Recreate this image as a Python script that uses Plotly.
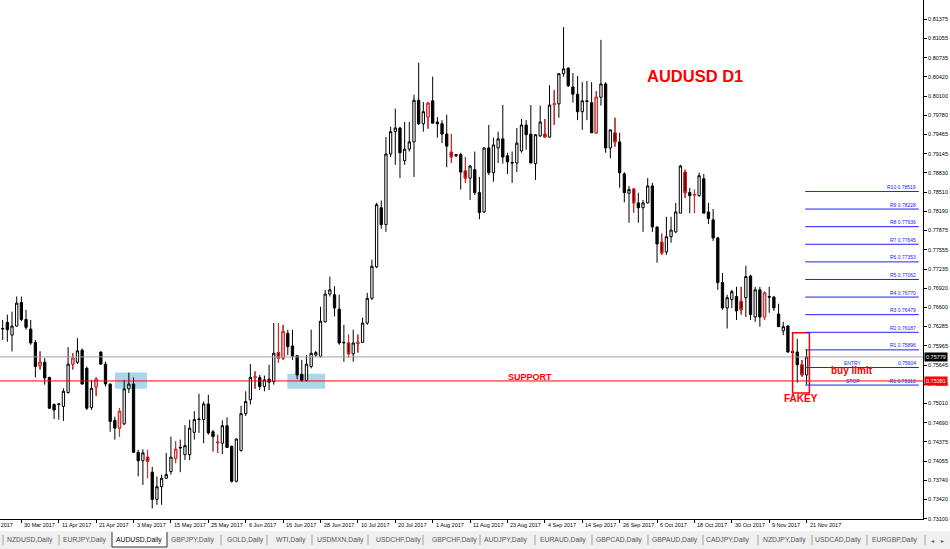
import pandas as pd
import plotly.graph_objects as go

# daily AUDUSD candles, 24 Mar 2017 .. 21 Nov 2017
opens = [0.7624, 0.7635, 0.7614, 0.7629, 0.7668, 0.7640, 0.7624, 0.7602, 0.7563, 0.7569,
         0.7544, 0.7499, 0.7499, 0.7496, 0.7519, 0.7566, 0.7569, 0.7589, 0.7559, 0.7494,
         0.7528, 0.7586, 0.7566, 0.7533, 0.7473, 0.7460, 0.7467, 0.7525, 0.7533, 0.7420,
         0.7406, 0.7412, 0.7387, 0.7342, 0.7363, 0.7377, 0.7388, 0.7410, 0.7427, 0.7416,
         0.7416, 0.7453, 0.7474, 0.7474, 0.7500, 0.7454, 0.7437, 0.7435, 0.7464, 0.7430,
         0.7372, 0.7423, 0.7484, 0.7507, 0.7544, 0.7544, 0.7529, 0.7541, 0.7537, 0.7585,
         0.7576, 0.7617, 0.7596, 0.7580, 0.7549, 0.7539, 0.7562, 0.7581, 0.7579, 0.7636,
         0.7682, 0.7681, 0.7657, 0.7601, 0.7601, 0.7583, 0.7600, 0.7602, 0.7634, 0.7675,
         0.7727, 0.7825, 0.7797, 0.7914, 0.7951, 0.7957, 0.7903, 0.7922, 0.7934, 0.8003,
         0.7964, 0.7975, 0.8002, 0.7967, 0.7964, 0.7947, 0.7917, 0.7911, 0.7913, 0.7886,
         0.7874, 0.7888, 0.7850, 0.7818, 0.7924, 0.7883, 0.7924, 0.7939, 0.7911, 0.7900,
         0.7899, 0.7919, 0.7962, 0.7947, 0.7898, 0.7944, 0.7947, 0.7942, 0.7997, 0.7997,
         0.8047, 0.8056, 0.8025, 0.8013, 0.7984, 0.8002, 0.7999, 0.7949, 0.8008, 0.8030,
         0.7924, 0.7949, 0.7934, 0.7881, 0.7849, 0.7856, 0.7833, 0.7825, 0.7833, 0.7861,
         0.7793, 0.7768, 0.7752, 0.7777, 0.7785, 0.7816, 0.7884, 0.7850, 0.7846, 0.7845,
         0.7873, 0.7818, 0.7805, 0.7775, 0.7701, 0.7659, 0.7673, 0.7678, 0.7670, 0.7676,
         0.7712, 0.7644, 0.7689, 0.7644, 0.7678, 0.7677, 0.7649, 0.7621, 0.7629, 0.7587,
         0.7586, 0.7565, 0.7548]
highs = [0.7639, 0.7648, 0.7653, 0.7678, 0.7678, 0.7656, 0.7639, 0.7606, 0.7587, 0.7576,
         0.7545, 0.7501, 0.7501, 0.7526, 0.7594, 0.7584, 0.7609, 0.7592, 0.7562, 0.7540,
         0.7544, 0.7587, 0.7570, 0.7534, 0.7479, 0.7493, 0.7540, 0.7552, 0.7544, 0.7424,
         0.7425, 0.7424, 0.7396, 0.7380, 0.7383, 0.7419, 0.7446, 0.7438, 0.7441, 0.7465,
         0.7474, 0.7488, 0.7517, 0.7504, 0.7515, 0.7457, 0.7449, 0.7473, 0.7478, 0.7431,
         0.7443, 0.7497, 0.7521, 0.7566, 0.7554, 0.7548, 0.7547, 0.7565, 0.7634, 0.7634,
         0.7631, 0.7623, 0.7623, 0.7581, 0.7573, 0.7581, 0.7623, 0.7588, 0.7661, 0.7689,
         0.7711, 0.7695, 0.7681, 0.7631, 0.7615, 0.7623, 0.7615, 0.7643, 0.7684, 0.7739,
         0.7833, 0.7837, 0.7942, 0.7959, 0.7989, 0.7959, 0.7967, 0.7967, 0.8012, 0.8065,
         0.8000, 0.8000, 0.8042, 0.7975, 0.7970, 0.7979, 0.7947, 0.7914, 0.7916, 0.7909,
         0.7896, 0.7918, 0.7876, 0.7925, 0.7962, 0.7941, 0.7951, 0.7995, 0.7916, 0.7918,
         0.7957, 0.7972, 0.7970, 0.7995, 0.7947, 0.7994, 0.7972, 0.8028, 0.8020, 0.8048,
         0.8124, 0.8058, 0.8048, 0.8043, 0.8033, 0.8035, 0.8033, 0.8018, 0.8103, 0.8033,
         0.7954, 0.7974, 0.7949, 0.7884, 0.7861, 0.7857, 0.7850, 0.7838, 0.7874, 0.7866,
         0.7794, 0.7782, 0.7810, 0.7810, 0.7833, 0.7896, 0.7888, 0.7858, 0.7855, 0.7883,
         0.7881, 0.7833, 0.7823, 0.7777, 0.7717, 0.7681, 0.7689, 0.7694, 0.7694, 0.7729,
         0.7714, 0.7694, 0.7694, 0.7686, 0.7694, 0.7679, 0.7666, 0.7636, 0.7631, 0.7611,
         0.7608, 0.7573, 0.7590]
lows = [0.7606, 0.7603, 0.7587, 0.7628, 0.7637, 0.7623, 0.7598, 0.7544, 0.7557, 0.7532,
        0.7492, 0.7475, 0.7474, 0.7472, 0.7517, 0.7557, 0.7566, 0.7532, 0.7490, 0.7490,
        0.7513, 0.7565, 0.7529, 0.7454, 0.7441, 0.7446, 0.7465, 0.7518, 0.7419, 0.7380,
        0.7366, 0.7377, 0.7327, 0.7333, 0.7333, 0.7376, 0.7383, 0.7402, 0.7387, 0.7407,
        0.7407, 0.7441, 0.7452, 0.7435, 0.7449, 0.7421, 0.7419, 0.7417, 0.7427, 0.7370,
        0.7370, 0.7421, 0.7480, 0.7499, 0.7525, 0.7523, 0.7521, 0.7523, 0.7532, 0.7568,
        0.7573, 0.7581, 0.7573, 0.7541, 0.7537, 0.7537, 0.7559, 0.7578, 0.7577, 0.7635,
        0.7678, 0.7645, 0.7598, 0.7570, 0.7577, 0.7570, 0.7585, 0.7601, 0.7631, 0.7672,
        0.7725, 0.7790, 0.7785, 0.7909, 0.7896, 0.7874, 0.7896, 0.7918, 0.7876, 0.7962,
        0.7951, 0.7956, 0.7965, 0.7941, 0.7932, 0.7892, 0.7899, 0.7909, 0.7855, 0.7866,
        0.7838, 0.7846, 0.7806, 0.7816, 0.7879, 0.7868, 0.7899, 0.7898, 0.7881, 0.7866,
        0.7884, 0.7916, 0.7921, 0.7899, 0.7871, 0.7942, 0.7941, 0.7941, 0.7962, 0.7974,
        0.8042, 0.8025, 0.7999, 0.7970, 0.7954, 0.7970, 0.7949, 0.7948, 0.7994, 0.7916,
        0.7907, 0.7926, 0.7858, 0.7834, 0.7800, 0.7817, 0.7800, 0.7785, 0.7832, 0.7785,
        0.7734, 0.7747, 0.7747, 0.7767, 0.7783, 0.7816, 0.7841, 0.7816, 0.7816, 0.7843,
        0.7816, 0.7798, 0.7770, 0.7689, 0.7656, 0.7625, 0.7659, 0.7639, 0.7648, 0.7644,
        0.7639, 0.7636, 0.7628, 0.7639, 0.7651, 0.7654, 0.7628, 0.7614, 0.7585, 0.7570,
        0.7535, 0.7545, 0.7532]
closes = [0.7625, 0.7623, 0.7629, 0.7667, 0.7640, 0.7627, 0.7601, 0.7562, 0.7569, 0.7543,
          0.7493, 0.7490, 0.7500, 0.7521, 0.7566, 0.7576, 0.7588, 0.7533, 0.7493, 0.7526,
          0.7541, 0.7566, 0.7533, 0.7471, 0.7460, 0.7488, 0.7525, 0.7533, 0.7420, 0.7406,
          0.7419, 0.7405, 0.7342, 0.7363, 0.7377, 0.7383, 0.7412, 0.7425, 0.7428, 0.7431,
          0.7460, 0.7474, 0.7475, 0.7500, 0.7452, 0.7446, 0.7436, 0.7464, 0.7428, 0.7372,
          0.7442, 0.7484, 0.7504, 0.7544, 0.7545, 0.7529, 0.7540, 0.7536, 0.7584, 0.7576,
          0.7620, 0.7595, 0.7579, 0.7548, 0.7539, 0.7566, 0.7584, 0.7585, 0.7637, 0.7682,
          0.7689, 0.7659, 0.7601, 0.7602, 0.7583, 0.7601, 0.7602, 0.7634, 0.7675, 0.7728,
          0.7830, 0.7797, 0.7914, 0.7951, 0.7957, 0.7916, 0.7922, 0.7934, 0.8003, 0.7964,
          0.7984, 0.7998, 0.7965, 0.7964, 0.7947, 0.7927, 0.7909, 0.7913, 0.7884, 0.7874,
          0.7894, 0.7850, 0.7817, 0.7924, 0.7883, 0.7929, 0.7939, 0.7909, 0.7901, 0.7899,
          0.7932, 0.7962, 0.7946, 0.7899, 0.7946, 0.7967, 0.7942, 0.7995, 0.7996, 0.8047,
          0.8055, 0.8027, 0.8013, 0.7984, 0.8002, 0.8001, 0.7949, 0.8008, 0.8030, 0.7924,
          0.7954, 0.7934, 0.7883, 0.7850, 0.7855, 0.7833, 0.7825, 0.7833, 0.7861, 0.7793,
          0.7765, 0.7750, 0.7777, 0.7788, 0.7818, 0.7894, 0.7850, 0.7845, 0.7847, 0.7878,
          0.7816, 0.7807, 0.7775, 0.7701, 0.7659, 0.7676, 0.7686, 0.7654, 0.7656, 0.7711,
          0.7648, 0.7689, 0.7644, 0.7684, 0.7677, 0.7659, 0.7628, 0.7628, 0.7586, 0.7585,
          0.7565, 0.7548, 0.7578]

# candles drawn in red by the chart's indicator (positions in the lists above)
red_idx = [8, 15, 20, 25, 31, 37, 46, 54, 59, 60, 74, 76, 91, 96, 99, 116, 118, 127,
           131, 135, 141, 146, 148, 158, 163, 171]

tick_dates = ["2017-03-30", "2017-04-11", "2017-04-21", "2017-05-03", "2017-05-15",
              "2017-05-25", "2017-06-06", "2017-06-16", "2017-06-28", "2017-07-10",
              "2017-07-20", "2017-08-01", "2017-08-11", "2017-08-23", "2017-09-04",
              "2017-09-14", "2017-09-26", "2017-10-06", "2017-10-18", "2017-10-30",
              "2017-11-09", "2017-11-21"]

price_ticks = [0.73100, 0.73420, 0.73740, 0.74055, 0.74375, 0.74690, 0.75010, 0.75330,
               0.75645, 0.75965, 0.76285, 0.76600, 0.76920, 0.77235, 0.77555, 0.77875,
               0.78190, 0.78510, 0.78830, 0.79145, 0.79465, 0.79780, 0.80100, 0.80420,
               0.80735, 0.81055, 0.81375]

level_names = ["R10", "R9", "R8", "R7", "R6", "R5", "R4", "R3", "R2", "R1", "", "-R1"]
level_prices = [0.78519, 0.78228, 0.77936, 0.77645, 0.77353, 0.77062, 0.76770, 0.76479,
                0.76187, 0.75896, 0.75604, 0.75313]

bid_price = 0.75779
support_price = 0.75381

tabs = ["NZDUSD,Daily", "EURJPY,Daily", "AUDUSD,Daily", "GBPJPY,Daily", "GOLD,Daily",
        "WTI,Daily", "USDMXN,Daily", "USDCHF,Daily", "GBPCHF,Daily", "AUDJPY,Daily",
        "EURAUD,Daily", "GBPCAD,Daily", "GBPAUD,Daily", "CADJPY,Daily", "NZDJPY,Daily",
        "USDCAD,Daily", "EURGBP,Daily"]
tab_centers = [30, 85, 139, 193, 245, 291, 340, 398, 454, 506, 563, 619, 675, 728, 784, 838, 894]
tab_seps = [3, 59, 221, 267, 312, 368, 423, 480, 535, 592, 648, 703, 758, 812, 867, 925]

dates = pd.bdate_range("2017-03-24", periods=len(opens)).strftime("%Y-%m-%d").tolist()

FONT = "Liberation Sans, Arial, sans-serif"
W, H = 950, 549
PW, PH = 923, 519  # plot area in px


def px_x(px):
    return px / PW


def px_y(py):
    return (PH - py) / PH


fig = go.Figure()

fig.add_trace(go.Candlestick(
    x=dates, open=opens, high=highs, low=lows, close=closes,
    increasing=dict(line=dict(color="black", width=1), fillcolor="white"),
    decreasing=dict(line=dict(color="black", width=1), fillcolor="black"),
    whiskerwidth=0, hoverinfo="skip", showlegend=False,
))

fig.add_trace(go.Candlestick(
    x=[dates[i] for i in red_idx],
    open=[opens[i] for i in red_idx], high=[highs[i] for i in red_idx],
    low=[lows[i] for i in red_idx], close=[closes[i] for i in red_idx],
    increasing=dict(line=dict(color="#ff2020", width=1), fillcolor="#d8d8d8"),
    decreasing=dict(line=dict(color="#ff2020", width=1), fillcolor="#2a0000"),
    whiskerwidth=0, hoverinfo="skip", showlegend=False,
))

shapes = []
# support zones
for x0, x1, y0, y1 in [(24.0, 30.9, 0.75252, 0.75522), (60.9, 69.0, 0.75252, 0.75500)]:
    shapes.append(dict(type="rect", xref="x", yref="y", x0=x0, x1=x1, y0=y0, y1=y1,
                       fillcolor="#a9d9e8", line=dict(width=0), layer="below"))
# bid and support lines
shapes.append(dict(type="line", xref="paper", yref="y", x0=0, x1=1, y0=bid_price, y1=bid_price,
                   line=dict(color="#a0a0a0", width=1)))
shapes.append(dict(type="line", xref="paper", yref="y", x0=0, x1=1, y0=support_price,
                   y1=support_price, line=dict(color="#ff0000", width=1)))
# fakey box
shapes.append(dict(type="rect", xref="x", yref="y", x0=169.0, x1=172.6, y0=0.7518, y1=0.7618,
                   line=dict(color="#ff0000", width=1.5)))
# R levels
for p in level_prices:
    shapes.append(dict(type="line", xref="x", yref="y", x0=171.7, x1=196.0, y0=p, y1=p,
                       line=dict(color="#2020ff", width=1)))

# tab strip
shapes.append(dict(type="rect", xref="paper", yref="paper", x0=0, x1=px_x(W),
                   y0=px_y(549), y1=px_y(531), fillcolor="#f0f0f0", line=dict(width=0)))
shapes.append(dict(type="rect", xref="paper", yref="paper", x0=px_x(112), x1=px_x(167),
                   y0=px_y(547), y1=px_y(531), fillcolor="white", line=dict(width=0)))
shapes.append(dict(type="path", xref="paper", yref="paper",
                   path="M %f,%f L %f,%f L %f,%f L %f,%f" % (
                       px_x(112), px_y(532), px_x(112), px_y(547),
                       px_x(167), px_y(547), px_x(167), px_y(532)),
                   line=dict(color="#303030", width=1)))
for sx in tab_seps:
    shapes.append(dict(type="line", xref="paper", yref="paper", x0=px_x(sx), x1=px_x(sx),
                       y0=px_y(545), y1=px_y(535), line=dict(color="#a0a0a0", width=1)))

annotations = []
# date labels, left-aligned next to their tick as in MT4
annotations.append(dict(xref="paper", yref="paper", x=px_x(15), y=px_y(525), text="20 Mar 2017",
                        xanchor="right", yanchor="middle", showarrow=False,
                        font=dict(family=FONT, size=5.5, color="black")))
for d in tick_dates:
    annotations.append(dict(xref="x", yref="paper", x=d, y=px_y(525),
                            text=pd.Timestamp(d).strftime("%-d %b %Y"),
                            xanchor="left", yanchor="middle", xshift=1, showarrow=False,
                            font=dict(family=FONT, size=5.5, color="black")))

# level labels
for name, p in zip(level_names, level_prices):
    annotations.append(dict(xref="x", yref="y", x=195.9, y=p, yshift=4.5,
                            text=(name + " " if name else "") + "%.5f" % p,
                            xanchor="right", yanchor="middle", showarrow=False,
                            font=dict(family=FONT, size=5, color="#2020ff")))
for txt, p in [("ENTRY", level_prices[10]), ("STOP", level_prices[11])]:
    annotations.append(dict(xref="x", yref="y", x=182.0, y=p, yshift=4.5, text=txt,
                            xanchor="center", yanchor="middle", showarrow=False,
                            font=dict(family=FONT, size=5, color="#2020ff")))

# price labels on the axis
for p, bg in [(bid_price, "black"), (support_price, "#ff0000")]:
    annotations.append(dict(xref="paper", yref="y", x=1, y=p, xshift=1, text="%.5f" % p,
                            xanchor="left", yanchor="middle", showarrow=False,
                            bgcolor=bg, borderpad=1,
                            font=dict(family=FONT, size=5.5, color="white")))

# chart texts
red_texts = [("<b>AUDUSD D1</b>", 148.1, 0.80432, 16.5),
             ("<b>SUPPORT</b>", 112.8, 0.75451, 9),
             ("<b>buy limit</b>", 181.7, 0.75550, 10),
             ("<b>FAKEY</b>", 170.8, 0.75087, 10)]
for txt, x, y, size in red_texts:
    annotations.append(dict(xref="x", yref="y", x=x, y=y, text=txt, showarrow=False,
                            xanchor="center", yanchor="middle",
                            font=dict(family=FONT, size=size, color="#ff0000")))

# tabs
for name, cx in zip(tabs, tab_centers):
    annotations.append(dict(xref="paper", yref="paper", x=px_x(cx), y=px_y(540), text=name,
                            xanchor="center", yanchor="middle", showarrow=False,
                            font=dict(family=FONT, size=6.8,
                                      color="black" if name == "AUDUSD,Daily" else "#555555")))
for ch, cx in [("\u25c2", 932), ("\u25b8", 942)]:
    annotations.append(dict(xref="paper", yref="paper", x=px_x(cx), y=px_y(540), text=ch,
                            xanchor="center", yanchor="middle", showarrow=False,
                            font=dict(family="DejaVu Sans", size=6, color="#606060")))

fig.update_layout(
    width=W, height=H,
    margin=dict(l=0, r=W - PW, t=0, b=H - PH, pad=0),
    paper_bgcolor="white", plot_bgcolor="white",
    showlegend=False,
    shapes=shapes, annotations=annotations,
    xaxis=dict(
        type="category", range=[-0.57, 196.9], rangeslider=dict(visible=False),
        tickmode="array", tickvals=tick_dates, showticklabels=False,
        ticks="outside", ticklen=3, tickcolor="black", tickwidth=1,
        showgrid=False, zeroline=False, showline=True, linecolor="black", linewidth=1,
        fixedrange=True,
    ),
    yaxis=dict(
        side="right", range=[0.73095, 0.81690],
        tickmode="array", tickvals=price_ticks, ticktext=["%.5f" % t for t in price_ticks],
        ticks="outside", ticklen=3, tickcolor="black", tickwidth=1,
        tickfont=dict(family=FONT, size=5.5, color="black"),
        showgrid=False, zeroline=False, showline=True, linecolor="black", linewidth=1,
        fixedrange=True,
    ),
)

# the page has a default body margin; drop it so the chart sits at the window's corner
fig.write_html("out.html", config={"displayModeBar": False},
               post_script="document.body.style.margin='0';document.body.style.overflow='hidden';")
